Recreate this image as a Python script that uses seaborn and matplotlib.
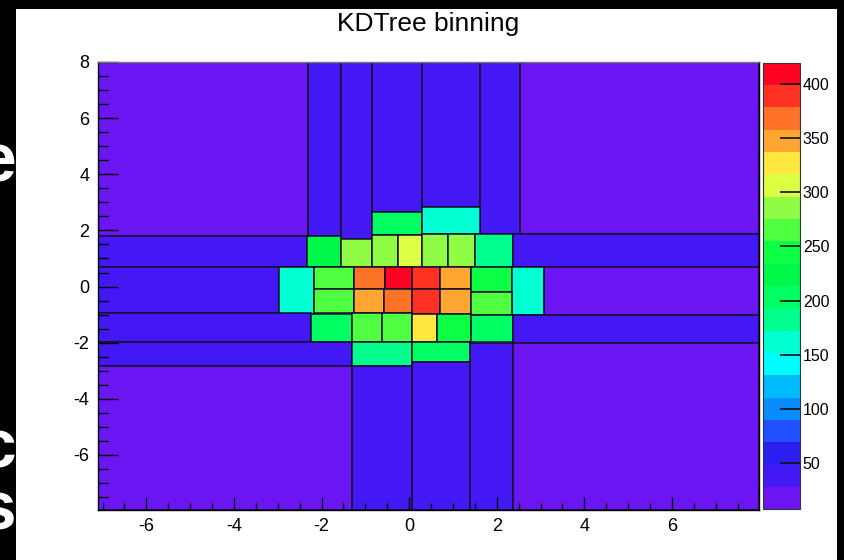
import numpy as np
import matplotlib
matplotlib.use("Agg")
import matplotlib.pyplot as plt
from matplotlib.colors import ListedColormap, BoundaryNorm
from matplotlib.cm import ScalarMappable
from matplotlib.patches import Rectangle
from matplotlib.ticker import MultipleLocator
import seaborn as sns

# ---------------- data: KD-tree bins (edges) and bin densities ----------------
x_lo = [-7.11, -2.32, -1.56, -0.85, 0.30, 1.61, 2.52,
        -0.85, 0.30,
        -7.11, -2.34, -1.56, -0.85, -0.26, 0.30, 0.89, 1.50, 2.37,
        -7.11, -2.96, -2.17, -1.27, -0.55, 0.07, 0.71, 1.41, 2.35, 3.09,
        -2.17, -1.27, -0.58, 0.07, 0.71, 1.41,
        -7.11, -2.25, -1.31, -0.62, 0.07, 0.64, 1.41, 2.37,
        -7.11, -1.31, 0.06,
        -7.11, -1.31, 0.06, 1.39, 2.37]
x_hi = [-2.32, -1.56, -0.85, 0.30, 1.61, 2.52, 7.98,
        0.30, 1.61,
        -2.34, -1.56, -0.85, -0.26, 0.30, 0.89, 1.50, 2.37, 7.98,
        -2.96, -2.17, -1.27, -0.55, 0.07, 0.71, 1.41, 2.35, 3.09, 7.98,
        -1.27, -0.58, 0.07, 0.71, 1.41, 2.35,
        -2.25, -1.31, -0.62, 0.07, 0.64, 1.41, 2.37, 7.98,
        -1.31, 0.06, 1.39,
        -1.31, 0.06, 1.39, 2.37, 7.98]
y_lo = [1.80, 1.80, 1.70, 2.64, 2.82, 1.86, 1.86,
        1.84, 1.87,
        0.68, 0.69, 0.69, 0.69, 0.69, 0.69, 0.69, 0.69, 0.68,
        -0.94, -0.96, -0.10, -0.10, -0.10, -0.10, -0.10, -0.20, -1.00, -1.00,
        -0.94, -0.94, -0.94, -0.96, -0.96, -1.00,
        -1.99, -1.99, -1.99, -1.99, -1.99, -1.99, -1.99, -2.02,
        -2.84, -2.82, -2.68,
        -7.96, -7.96, -7.96, -7.96, -7.96]
y_hi = [8.00, 8.00, 8.00, 8.00, 8.00, 8.00, 8.00,
        2.64, 2.82,
        1.80, 1.80, 1.70, 1.84, 1.84, 1.87, 1.87, 1.86, 1.86,
        0.68, 0.68, 0.69, 0.69, 0.69, 0.69, 0.69, 0.69, 0.68, 0.68,
        -0.10, -0.10, -0.10, -0.10, -0.10, -0.20,
        -0.94, -0.96, -0.94, -0.94, -0.96, -0.96, -1.00, -1.00,
        -1.99, -1.99, -1.99,
        -2.84, -2.82, -2.68, -2.02, -2.02]
density = [6.9, 38, 40, 31, 30, 34, 7.1,
           201, 158,
           35, 224, 282, 285, 306, 283, 280, 185, 32,
           31, 158, 262, 366, 420, 391, 346, 240, 160, 22,
           258, 342, 363, 389, 344, 262,
           36, 205, 265, 263, 326, 242, 210, 33,
           38, 181, 200,
           7.4, 30, 31, 34, 7.3]

title = "KDTree binning"
cbar_ticks = [50, 100, 150, 200, 250, 300, 350, 400]
x_ticks = [-6, -4, -2, 0, 2, 4, 6]
y_ticks = [-6, -4, -2, 0, 2, 4, 6, 8]

# 20-level ROOT "pretty" palette (violet -> red)
palette_hex = ["#6b16f2", "#4318f5", "#2a1ff0", "#2050ff", "#0a8cff",
               "#00bcff", "#00fcff", "#00ffd2", "#00ff8c", "#00ff62",
               "#00f84a", "#0cff45", "#50ff42", "#8ffc45", "#dcff44",
               "#ffe741", "#ffa532", "#ff7328", "#ff3122", "#ff0322"]

# ---------------- styling ----------------
sns.set_theme(style="white")
plt.rcParams["font.family"] = ["Liberation Sans", "DejaVu Sans"]
plt.rcParams["axes.unicode_minus"] = False
plt.rcParams["text.color"] = "black"
plt.rcParams["xtick.color"] = "black"
plt.rcParams["ytick.color"] = "black"

cmap = ListedColormap(sns.color_palette(palette_hex))
vmin, vmax = min(density), max(density)
levels = np.linspace(vmin, vmax, len(palette_hex) + 1)
norm = BoundaryNorm(levels, cmap.N)

fig = plt.figure(figsize=(8.44, 5.60), dpi=100)
fig.patch.set_facecolor("black")
W, H = 844.0, 560.0
fig.patches.append(Rectangle((16 / W, 0), (837 - 16) / W, (560 - 9) / H,
                             transform=fig.transFigure, facecolor="white",
                             edgecolor="none", zorder=-10))

# cropped slide letters at the far left
for ch, yy in [("e", 163), ("c", 450), ("s", 511)]:
    fig.text(16 / W, 1 - yy / H, ch, color="white", fontsize=50,
             fontweight="bold", ha="right", va="center")

fig.text(428 / W, 1 - 24 / H, title, ha="center", va="center",
         fontsize=19, color="black")

ax = fig.add_axes([97.7 / W, 50 / H, (758.7 - 97.7) / W, 448 / H])
ax.set_facecolor("white")
ax.set_axisbelow(False)

x_lo_a, x_hi_a = np.array(x_lo), np.array(x_hi)
y_lo_a, y_hi_a = np.array(y_lo), np.array(y_hi)
ax.bar(x_lo_a, y_hi_a - y_lo_a, width=x_hi_a - x_lo_a, bottom=y_lo_a,
       align="edge", color=cmap(norm(np.array(density))),
       edgecolor="#15102a", linewidth=1.1, zorder=1)

ax.set_xlim(-7.11, 7.98)
ax.set_ylim(-7.96, 8.0)
ax.set_xticks(x_ticks)
ax.set_yticks(y_ticks)
ax.xaxis.set_minor_locator(MultipleLocator(0.5))
ax.yaxis.set_minor_locator(MultipleLocator(0.5))
ax.tick_params(axis="x", which="major", direction="in", length=9.6, width=1,
               color="black", labelcolor="black", labelsize=13, pad=6,
               bottom=True, top=False)
ax.tick_params(axis="x", which="minor", direction="in", length=4.8, width=1,
               color="black", bottom=True, top=False)
ax.tick_params(axis="y", which="major", direction="in", length=14.4, width=1,
               color="black", labelcolor="black", labelsize=13, pad=6,
               left=True, right=False)
ax.tick_params(axis="y", which="minor", direction="in", length=7.2, width=1,
               color="black", left=True, right=False)
for sp in ax.spines.values():
    sp.set_color("black")
    sp.set_linewidth(1.0)
    sp.set_zorder(3)
ax.spines["top"].set_color("#777777")

cax = fig.add_axes([762.5 / W, 50.7 / H, 37.5 / W, 446.6 / H])
cax.set_axisbelow(False)
cb = fig.colorbar(ScalarMappable(norm=norm, cmap=cmap), cax=cax,
                  spacing="proportional", drawedges=False)
cb.set_ticks(cbar_ticks)
cb.set_ticklabels([str(t) for t in cbar_ticks])
cb.outline.set_edgecolor("#333333")
cb.outline.set_linewidth(0.8)
cax.tick_params(axis="y", which="major", direction="in", length=14.4,
                width=1.2, color="#111111", labelcolor="black",
                labelsize=11.5, pad=2, right=True, left=False)
cax.minorticks_off()

fig.savefig("out.png", dpi=100, facecolor=fig.get_facecolor())
